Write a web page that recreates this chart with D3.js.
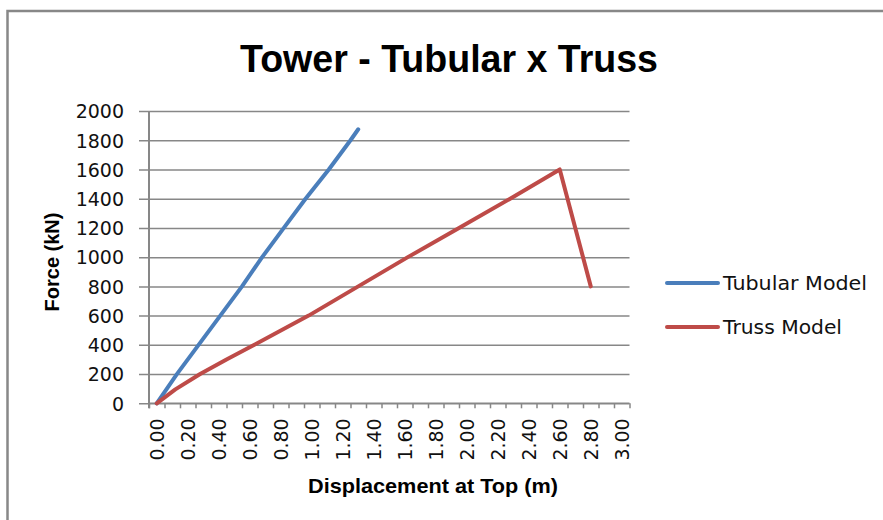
<!DOCTYPE html>
<html>
<head>
<meta charset="utf-8">
<script src="https://cdn.jsdelivr.net/npm/d3@7"></script>
<style>
  body { margin: 0; background: #fff; }
  svg { display: block; }
  .tick text { font-family: "DejaVu Sans", sans-serif; font-size: 19px; fill: #111; }
  .domain { display: none; }
</style>
</head>
<body>
<script>
var w = 883;
var h = 520;

// data
var xLabels = ["0.00", "0.20", "0.40", "0.60", "0.80", "1.00", "1.20", "1.40",
  "1.60", "1.80", "2.00", "2.20", "2.40", "2.60", "2.80", "3.00"];
var yTicks = [0, 200, 400, 600, 800, 1000, 1200, 1400, 1600, 1800, 2000];

var tubularDisp = [0, 0.13, 0.27, 0.41, 0.55, 0.68, 0.82, 0.96, 1.11, 1.25, 1.30];
var tubularForce = [0, 200, 400, 600, 800, 1000, 1200, 1400, 1600, 1800, 1875];

var trussDisp = [0, 0.12, 0.28, 0.45, 0.63, 0.98, 1.30, 1.62, 1.95, 2.28, 2.60, 2.80];
var trussForce = [0, 95, 200, 300, 400, 600, 800, 1000, 1200, 1400, 1600, 800];

var seriesNames = ["Tubular Model", "Truss Model"];
var seriesColors = ["#4a7ebb", "#be4b48"];

var svg = d3.select("body").append("svg").attr("width", w).attr("height", h);

// chart frame (only left and top edges show in the picture)
svg.append("path")
    .attr("d", "M7.5," + h + "V11H" + w)
    .attr("fill", "none")
    .attr("stroke", "#888")
    .attr("stroke-width", 2.5);

var x = d3.scaleLinear().domain([-0.05, 3.05]).range([149, 629.5]);
var y = d3.scaleLinear().domain([0, 2000]).range([403.3, 111]);

// gridlines + y ticks
var yAxis = svg.append("g")
    .attr("transform", "translate(149,0)")
    .call(d3.axisLeft(y).tickValues(yTicks).tickSize(-(629.5 - 149)).tickPadding(0).tickFormat(d3.format("d")));
yAxis.selectAll(".tick line")
    .attr("x1", -10)
    .attr("stroke", "#878787")
    .attr("stroke-width", 1.5);
yAxis.selectAll(".tick text").attr("x", -25).attr("dy", "0.36em");

// y axis line
svg.append("line")
    .attr("x1", 149).attr("x2", 149)
    .attr("y1", y(2000)).attr("y2", y(0) + 5)
    .attr("stroke", "#878787").attr("stroke-width", 2);

// x tick marks on category boundaries
var boundaries = d3.range(32).map(function (i) { return -0.05 + i * 0.1; });
svg.append("g")
    .attr("transform", "translate(0," + y(0) + ")")
    .call(d3.axisBottom(x).tickValues(boundaries).tickSize(5).tickFormat(""))
    .selectAll(".tick line")
    .attr("stroke", "#878787").attr("stroke-width", 1.5);

svg.append("line")
    .attr("x1", 149).attr("x2", 629.5)
    .attr("y1", y(0)).attr("y2", y(0))
    .attr("stroke", "#878787").attr("stroke-width", 1.5);

// x labels, rotated
var xAxis = svg.append("g")
    .attr("transform", "translate(0," + y(0) + ")")
    .call(d3.axisBottom(x).tickValues(xLabels.map(Number)).tickSize(0)
        .tickFormat(function (d, i) { return xLabels[i]; }));
xAxis.selectAll(".tick text")
    .attr("transform", "rotate(-90)")
    .attr("text-anchor", "end")
    .attr("x", -15)
    .attr("y", 0)
    .attr("dy", "0.36em");

// series lines
var line = d3.line().x(function (d) { return x(d[0]); }).y(function (d) { return y(d[1]); });
var series = [
    d3.zip(tubularDisp, tubularForce),
    d3.zip(trussDisp, trussForce)
];
series.forEach(function (s, i) {
    svg.append("path")
        .attr("d", line(s))
        .attr("fill", "none")
        .attr("stroke", seriesColors[i])
        .attr("stroke-width", 4)
        .attr("stroke-linejoin", "round")
        .attr("stroke-linecap", "round");
});

// title
svg.append("text")
    .attr("x", 449).attr("y", 72)
    .attr("text-anchor", "middle")
    .attr("font-family", "Liberation Sans, Arial, sans-serif")
    .attr("font-weight", "bold")
    .attr("font-size", 38)
    .attr("textLength", 418)
    .attr("lengthAdjust", "spacingAndGlyphs")
    .text("Tower - Tubular x Truss");

// axis titles
svg.append("text")
    .attr("x", 433).attr("y", 493)
    .attr("text-anchor", "middle")
    .attr("font-family", "Liberation Sans, Arial, sans-serif")
    .attr("font-weight", "bold")
    .attr("font-size", 21)
    .attr("textLength", 250)
    .attr("lengthAdjust", "spacingAndGlyphs")
    .text("Displacement at Top (m)");

svg.append("text")
    .attr("transform", "translate(59,262) rotate(-90)")
    .attr("text-anchor", "middle")
    .attr("font-family", "Liberation Sans, Arial, sans-serif")
    .attr("font-weight", "bold")
    .attr("font-size", 20)
    .text("Force (kN)");

// legend
var legend = svg.append("g");
var legendWidths = [144, 119];
seriesNames.forEach(function (name, i) {
    var ly = 283 + i * 44;
    legend.append("line")
        .attr("x1", 667).attr("x2", 718)
        .attr("y1", ly).attr("y2", ly)
        .attr("stroke", seriesColors[i])
        .attr("stroke-width", 4)
        .attr("stroke-linecap", "round");
    legend.append("text")
        .attr("x", 723).attr("y", ly)
        .attr("dy", "0.36em")
        .attr("font-family", "DejaVu Sans, sans-serif")
        .attr("font-size", 20)
        .attr("textLength", legendWidths[i])
        .attr("lengthAdjust", "spacingAndGlyphs")
        .attr("fill", "#111")
        .text(name);
});
</script>
</body>
</html>
